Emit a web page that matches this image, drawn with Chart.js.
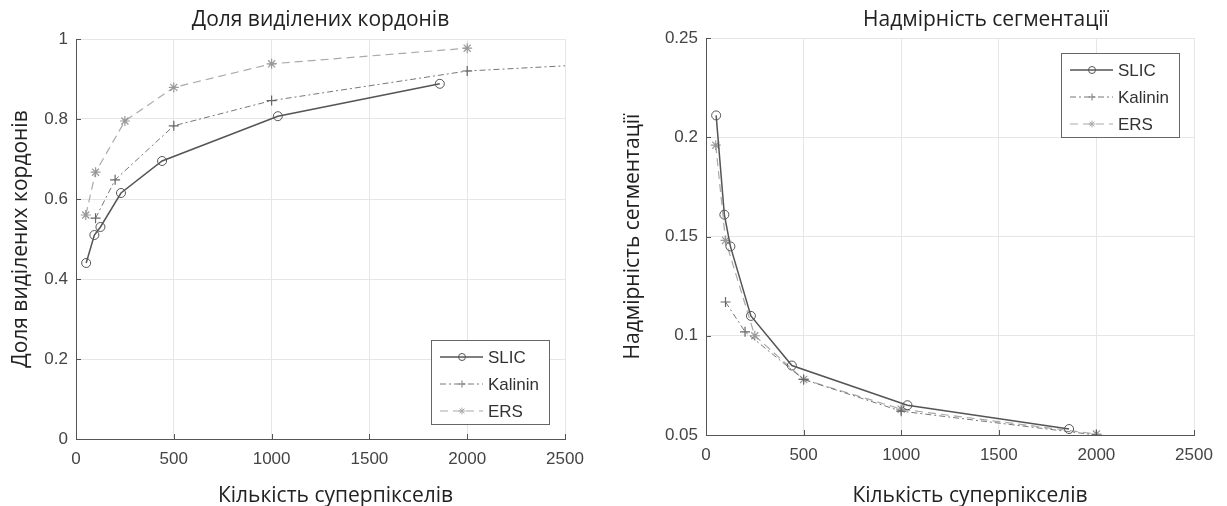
<!DOCTYPE html>
<html>
<head>
<meta charset="utf-8">
<script src="https://cdn.jsdelivr.net/npm/chart.js@4.4.1/dist/chart.umd.min.js"></script>
<style>
  html, body { margin: 0; padding: 0; background: #fff; }
  #wrap { position: relative; width: 1227px; height: 506px; overflow: hidden; }
  #brBox { position: absolute; left: 0; top: 0; width: 600px; height: 506px; }
  #usBox { position: absolute; left: 610px; top: 0; width: 617px; height: 506px; }
</style>
</head>
<body>
<div id="wrap">
  <div id="brBox"><canvas id="brChart"></canvas></div>
  <div id="usBox"><canvas id="usChart"></canvas></div>
</div>
<script>
// ---- data ----
const xTicks = [0, 500, 1000, 1500, 2000, 2500];
const brTicks = [0, 0.2, 0.4, 0.6, 0.8, 1];
const usTicks = [0.05, 0.1, 0.15, 0.2, 0.25];

const slicX = [52, 94, 125, 230, 440, 1032, 1860];
const kalininX = [100, 200, 500, 1000, 2000, 2500];
const ersX = [50, 100, 250, 500, 1000, 2000];

// boundary recall (left)
const slicBR = [0.44, 0.51, 0.53, 0.615, 0.695, 0.807, 0.888];
const kalininBR = [0.552, 0.648, 0.783, 0.846, 0.92, 0.933];
const ersBR = [0.56, 0.667, 0.795, 0.879, 0.938, 0.977];

// undersegmentation error (right)
const kalininUS_X = [100, 200, 500, 1000, 2000, 2500];
const slicUS = [0.211, 0.161, 0.145, 0.110, 0.085, 0.065, 0.053];
const kalininUS = [0.117, 0.102, 0.078, 0.062, 0.050, 0.047];
const ersUS = [0.196, 0.148, 0.100, 0.078, 0.063, 0.0505];

const TICK_FONT = { family: "'Liberation Sans', Arial, sans-serif", size: 17 };
const LABEL_FONT = "'Open Sans', 'Noto Sans', sans-serif";
const X_TITLE = "Кількість суперпікселів";

function pts(xs, ys) {
  return xs.map((x, i) => ({ x, y: ys[i] }));
}

function drawMarker(ctx, style, x, y, r) {
  ctx.beginPath();
  if (style === "circle") {
    ctx.arc(x, y, r, 0, Math.PI * 2);
  } else if (style === "cross") {
    ctx.moveTo(x - r, y); ctx.lineTo(x + r, y);
    ctx.moveTo(x, y - r); ctx.lineTo(x, y + r);
  } else if (style === "star") {
    const d = r * 0.7;
    ctx.moveTo(x - r, y); ctx.lineTo(x + r, y);
    ctx.moveTo(x, y - r); ctx.lineTo(x, y + r);
    ctx.moveTo(x - d, y - d); ctx.lineTo(x + d, y + d);
    ctx.moveTo(x - d, y + d); ctx.lineTo(x + d, y - d);
  }
  ctx.stroke();
}

// title above plot, x label, MATLAB-like legend box, inner tick marks
const matlabPlugin = {
  id: "matlabLook",
  afterDraw(chart, args, opts) {
    const { ctx, chartArea: a } = chart;
    const xs = chart.scales.x, ys = chart.scales.y;

    ctx.save();
    ctx.strokeStyle = "#555";
    ctx.lineWidth = 1;
    ctx.beginPath();
    xs.ticks.forEach(t => {
      const px = Math.round(xs.getPixelForValue(t.value)) + 0.5;
      ctx.moveTo(px, a.bottom); ctx.lineTo(px, a.bottom - 5);
    });
    ys.ticks.forEach(t => {
      const py = Math.round(ys.getPixelForValue(t.value)) + 0.5;
      ctx.moveTo(a.left, py); ctx.lineTo(a.left + 5, py);
    });
    ctx.stroke();

    ctx.fillStyle = "#222";
    ctx.font = "21px " + LABEL_FONT;
    ctx.textAlign = "center";
    ctx.textBaseline = "middle";
    ctx.fillText(opts.title, (a.left + a.right) / 2 + opts.titleShift, opts.titleY);
    ctx.fillText(X_TITLE, (a.left + a.right) / 2 + opts.xTitleShift, opts.xTitleY);

    const w = 118, h = 84;
    const lx = a.right - opts.legendRight - w;
    const ly = opts.legendCorner === "top" ? a.top + opts.legendTop : a.bottom - opts.legendBottom - h;
    ctx.fillStyle = "#fff";
    ctx.fillRect(lx, ly, w, h);
    ctx.strokeStyle = "#666";
    ctx.lineWidth = 1;
    ctx.strokeRect(Math.round(lx) + 0.5, Math.round(ly) + 0.5, w, h);
    chart.data.datasets.forEach((ds, i) => {
      const ry = ly + 17 + i * 27;
      ctx.save();
      ctx.strokeStyle = ds.borderColor;
      ctx.lineWidth = ds.borderWidth;
      ctx.setLineDash(ds.borderDash || []);
      ctx.beginPath();
      ctx.moveTo(lx + 9, ry); ctx.lineTo(lx + 52, ry);
      ctx.stroke();
      ctx.setLineDash([]);
      ctx.lineWidth = 1;
      drawMarker(ctx, ds.pointStyle, lx + 31, ry, 3.5);
      ctx.restore();
      ctx.fillStyle = "#333";
      ctx.font = "17px 'Liberation Sans', Arial, sans-serif";
      ctx.textAlign = "left";
      ctx.textBaseline = "middle";
      ctx.fillText(ds.label, lx + 57, ry + 1);
    });
    ctx.restore();
  }
};

function makeDatasets(slic, kal, ers, kalX) {
  const hideAtEdge = c => (c.raw && c.raw.x >= 2500 ? 0 : 5);
  return [
    {
      label: "SLIC", data: pts(slicX, slic),
      borderColor: "#555", borderWidth: 1.5, pointStyle: "circle",
      pointRadius: 4.5, pointBorderWidth: 1, pointBorderColor: "#555",
      pointBackgroundColor: "rgba(0,0,0,0)"
    },
    {
      label: "Kalinin", data: pts(kalX, kal),
      borderColor: "#777", borderWidth: 1, borderDash: [6, 3, 2, 3], pointStyle: "cross",
      pointRadius: hideAtEdge, pointBorderWidth: 1.2, pointBorderColor: "#666"
    },
    {
      label: "ERS", data: pts(ersX, ers),
      borderColor: "#aaa", borderWidth: 1.2, borderDash: [8, 5], pointStyle: "star",
      pointRadius: 5, pointBorderWidth: 1.2, pointBorderColor: "#999"
    }
  ];
}

function makeOptions(cfg) {
  return {
    responsive: true,
    maintainAspectRatio: false,
    animation: false,
    layout: { padding: { top: cfg.top, right: cfg.right, left: 0, bottom: 0 } },
    elements: { line: { tension: 0, fill: false } },
    plugins: {
      legend: { display: false },
      tooltip: { enabled: false },
      matlabLook: cfg.look
    },
    scales: {
      x: {
        type: "linear", min: 0, max: 2500,
        afterBuildTicks: s => { s.ticks = xTicks.map(v => ({ value: v })); },
        afterFit: s => { s.height = cfg.xHeight; },
        ticks: { color: "#444", font: TICK_FONT, padding: 10, callback: v => String(v) },
        grid: { color: "#e6e6e6", drawTicks: false },
        border: { color: "#555", width: 1 }
      },
      y: {
        type: "linear", min: cfg.ymin, max: cfg.ymax,
        afterBuildTicks: s => { s.ticks = cfg.yTicks.map(v => ({ value: v })); },
        afterFit: s => { s.width = cfg.yWidth; },
        ticks: {
          color: "#444", font: TICK_FONT, padding: 8,
          callback: v => String(Number(v.toFixed(2)))
        },
        grid: { color: "#e6e6e6", drawTicks: false },
        border: { color: "#555", width: 1 },
        title: {
          display: true, text: cfg.yTitle, color: "#222",
          font: { family: LABEL_FONT, size: 21 }, padding: { top: cfg.yTitlePad, bottom: 0 }
        }
      }
    }
  };
}

Chart.register(matlabPlugin);

new Chart(document.getElementById("brChart").getContext("2d"), {
  type: "line",
  data: { datasets: makeDatasets(slicBR, kalininBR, ersBR, kalininX) },
  options: makeOptions({
    top: 39, right: 35, xHeight: 67, yWidth: 76, ymin: 0, ymax: 1, yTicks: brTicks,
    yTitle: "Доля виділених кордонів", yTitlePad: 8,
    look: { title: "Доля виділених кордонів", titleY: 20, titleShift: 0,
            xTitleShift: 15, xTitleY: 496,
            legendCorner: "bottom", legendRight: 16, legendBottom: 15 }
  })
});

new Chart(document.getElementById("usChart").getContext("2d"), {
  type: "line",
  data: { datasets: makeDatasets(slicUS, kalininUS, ersUS, kalininUS_X) },
  options: makeOptions({
    top: 38, right: 33, xHeight: 71, yWidth: 96, ymin: 0.05, ymax: 0.25, yTicks: usTicks,
    yTitle: "Надмірність сегментації", yTitlePad: 10,
    look: { title: "Надмірність сегментації", titleY: 20, titleShift: 36,
            xTitleShift: 20, xTitleY: 496,
            legendCorner: "top", legendRight: 15, legendTop: 15 }
  })
});
</script>
</body>
</html>
